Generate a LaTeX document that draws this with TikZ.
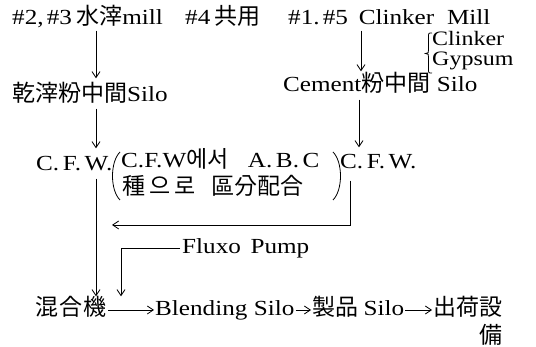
\documentclass[tikz,border=0pt]{standalone}
\usepackage{fontspec}
\setmainfont{Liberation Serif}[FakeStretch=1.17]
\newfontfamily\cjk{Noto Sans CJK KR}[Scale=1.07]
\usetikzlibrary{arrows.meta}
\begin{document}
\begin{tikzpicture}[x=1pt,y=-1pt,
  lbl/.style={anchor=west,inner sep=0pt,text height=14pt,text depth=3pt,font=\fontsize{21.5}{24}\selectfont},
  sub/.style={anchor=west,inner sep=0pt,text height=12pt,text depth=3pt,font=\fontsize{20.5}{22}\selectfont},
  arr/.style={-{Straight Barb[length=6pt,width=8pt]},line width=0.8pt},
  ln/.style={line width=0.8pt}]
\useasboundingbox (0,0) rectangle (536,347);
% text nodes
\node[lbl] (n1) at (12,19) {\#2,\hspace{0.15em}\#3\hspace{0.2em}{\cjk 水滓}mill};
\node[lbl] (n2) at (185,19) {\#4\hspace{0.2em}{\cjk 共用}};
\node[lbl] (n3) at (288,19) {\#1.\hspace{0.15em}\#5\hspace{0.5em}Clinker\hspace{0.6em}Mill};
\node[sub] (ck) at (432,41) {Clinker};
\node[sub] (gy) at (432,61.5) {Gypsum};
\node[lbl] (s1) at (12,96) {{\cjk 乾滓粉中間}Silo};
\node[lbl] (s2) at (283,86) {Cement{\cjk 粉中間}\hspace{0.3em}Silo};
\node[lbl] (c1) at (36,165) {C.\,F.\,W.};
\node[lbl] (na) at (121,162) {C.F.W{\cjk 에서}\hspace{0.9em}A.\,B.\,C};
\node[lbl] (nb) at (122,189) {{\cjk 種\,으\,로\hspace{0.7em}區分配合}};
\node[lbl] (c2) at (340,163) {C.\,F.\,W.};
\node[lbl] (fp) at (182,248) {Fluxo\hspace{0.45em}Pump};
\node[lbl] (mx) at (35,310) {{\cjk 混\hspace{0.06em}合\hspace{0.06em}機}};
\node[lbl] (bl) at (155,310) {Blending\hspace{0.3em}Silo};
\node[lbl] (pr) at (312,310) {{\cjk 製品}\hspace{0.25em}Silo};
\node[lbl] (sh) at (433,310) {{\cjk 出荷設}};
\coordinate (by) at (0,338);
\node[lbl,anchor=east] (sh2) at (sh.east |- by) {{\cjk 備}};
% helper x positions
\coordinate (xl) at (96,0);
\coordinate (xr1) at (361,0);
\coordinate (xr2) at (359,0);
\coordinate (xr3) at (350,0);
\coordinate (xf) at (121,0);
\coordinate (hy) at (112,225);
% connectors
\draw[arr,shorten <=3pt,shorten >=9pt] (xl |- n1.south) -- (xl |- s1.north);
\draw[arr,shorten <=3pt,shorten >=6pt] (xr1 |- n3.south) -- (xr1 |- s2.north);
\draw[arr,shorten <=4pt,shorten >=8pt] (xl |- s1.south) -- (xl |- c1.north);
\draw[arr,shorten <=5pt,shorten >=7pt] (xr2 |- s2.south) -- (xr2 |- c2.north);
\draw[arr,shorten <=5pt,shorten >=5pt] (xl |- c1.south) -- (xl |- mx.north);
\draw[arr,shorten <=9pt] (xr3 |- c2.south) |- (hy);
\draw[arr,shorten <=2pt,shorten >=5pt] (fp.west) -| (xf |- mx.north);
\draw[arr,shorten <=1pt,shorten >=1pt] (mx.east) -- (bl.west);
\draw[arr,shorten <=1pt,shorten >=1pt] (bl.east) -- (pr.west);
\draw[arr,shorten <=1pt,shorten >=1pt] (pr.east) -- (sh.west);
% brace
\draw[ln] (432,33) .. controls (428.5,33) .. (428.5,37) -- (428.5,50)
  .. controls (428.5,53) .. (425.5,53.5) .. controls (428.5,54) .. (428.5,57)
  -- (428.5,69) .. controls (428.5,73) .. (432,73);
% parentheses
\draw[ln] (120,152) .. controls (110,162) and (110,190) .. (120,200);
\draw[ln] (333,152) .. controls (343,162) and (343,190) .. (333,200);
\end{tikzpicture}
\end{document}
